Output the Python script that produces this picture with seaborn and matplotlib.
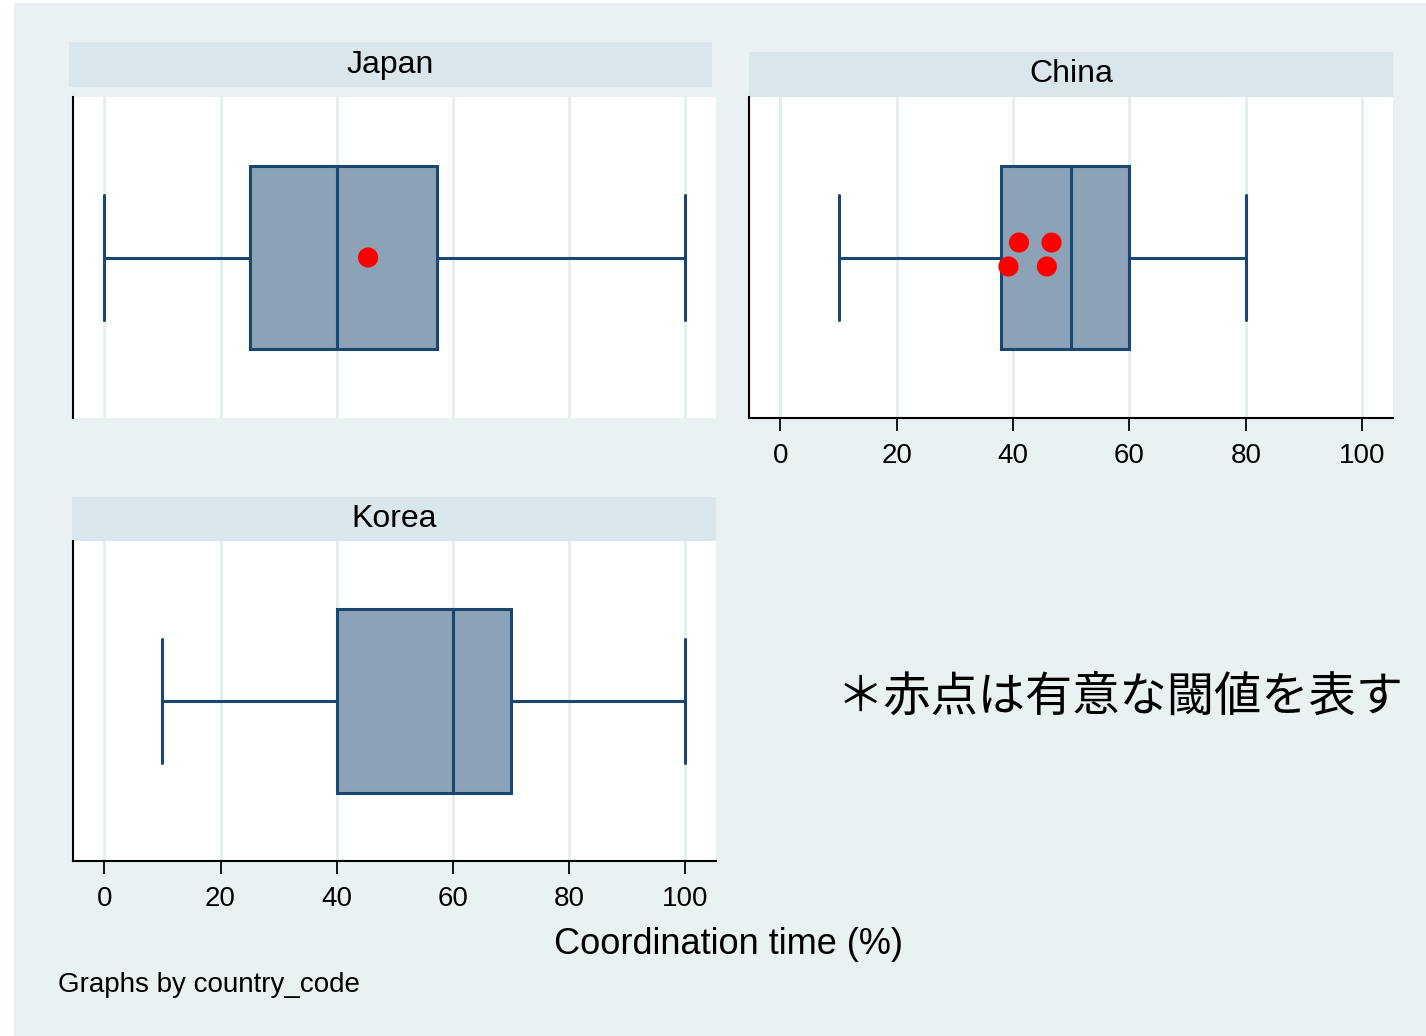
# Boxplots de tiempo de coordinación por país (estilo Stata)
import pandas as pd
import matplotlib.pyplot as plt
import seaborn as sns
from matplotlib.patches import Rectangle

# ==============================================================================
# Datos
# ==============================================================================
countries = ['Japan', 'China', 'Korea']

# min, Q1, mediana, Q3, max de cada país
japan_vals = [0, 25, 40, 57.3, 100]
china_vals = [10, 38, 50, 60, 80]
korea_vals = [10, 40, 60, 70, 100]

# Puntos rojos (umbrales significativos)
dot_country = ['Japan', 'China', 'China', 'China', 'China']
dot_x = [45.4, 41.0, 46.6, 39.2, 45.8]
dot_y = [0.0, -0.065, -0.065, 0.039, 0.039]

x_ticks = [0, 20, 40, 60, 80, 100]

df = pd.DataFrame({
    'country': ['Japan'] * 5 + ['China'] * 5 + ['Korea'] * 5,
    'value': japan_vals + china_vals + korea_vals,
})
df_dots = pd.DataFrame({'country': dot_country, 'x': dot_x, 'y': dot_y})

# Colores
bg = '#EAF1F3'
strip = '#D9E6EC'
grid_col = '#E6EEF0'
navy = '#1A476F'
box_fill = '#8CA3B7'

sns.set_style('white')
plt.rcParams['font.family'] = ['Liberation Sans', 'Noto Sans CJK JP', 'DejaVu Sans']
plt.rcParams['text.color'] = 'black'
plt.rcParams['xtick.color'] = 'black'
plt.rcParams['xtick.labelcolor'] = 'black'

W, H = 1426, 1036
fig = plt.figure(figsize=(W / 100, H / 100), dpi=100, facecolor='white')
fig.patches.append(Rectangle((14 / W, 0), 1 - 14 / W, 1 - 3 / H, transform=fig.transFigure,
                             facecolor=bg, edgecolor='none', zorder=-10))


def px_axes(x0, y0, x1, y1):
    return fig.add_axes([x0 / W, 1 - y1 / H, (x1 - x0) / W, (y1 - y0) / H])


def add_strip(x0, y0, x1, y1, label):
    fig.patches.append(Rectangle((x0 / W, 1 - y1 / H), (x1 - x0) / W, (y1 - y0) / H,
                                 transform=fig.transFigure, facecolor=strip,
                                 edgecolor='none', zorder=-5))
    fig.text((x0 + x1) / 2 / W, 1 - (y0 + y1) / 2 / H, label, ha='center', va='center',
             fontsize=23, color='black')


# Posición de paneles en píxeles
panels = {
    'Japan': dict(ax=(73, 97, 716, 418), strip=(69, 42, 712, 87), xlab=False),
    'China': dict(ax=(749, 97, 1393, 418), strip=(749, 52, 1393, 97), xlab=True),
    'Korea': dict(ax=(73, 541, 716, 861), strip=(72, 497, 716, 541), xlab=True),
}

for c in countries:
    p = panels[c]
    ax = px_axes(*p['ax'])
    ax.set_facecolor('white')
    sub = df[df['country'] == c]
    sns.boxplot(data=sub, x='value', orient='h', ax=ax, color=box_fill, saturation=1,
                linecolor=navy, linewidth=2.2, width=0.8, whis=(0, 100),
                capwidths=0.54)
    d = df_dots[df_dots['country'] == c]
    if len(d):
        sns.scatterplot(data=d, x='x', y='y', ax=ax, color='#FF0000', s=210,
                        edgecolor='none', zorder=5)

    ax.set_xlim(-5.4, 105.3)
    ax.set_ylim(0.698, -0.698)
    ax.set_xticks(x_ticks)
    ax.set_yticks([])
    ax.grid(axis='x', color=grid_col, linewidth=2.2)
    ax.grid(axis='y', visible=False)
    ax.set_axisbelow(True)
    ax.set_xlabel('')
    ax.set_ylabel('')

    for s in ['top', 'right']:
        ax.spines[s].set_visible(False)
    ax.spines['left'].set_color('black')
    ax.spines['left'].set_linewidth(1.5)
    if p['xlab']:
        ax.spines['bottom'].set_color('black')
        ax.spines['bottom'].set_linewidth(1.5)
        ax.tick_params(axis='x', length=9, width=1.3, color='black', labelsize=20, pad=9,
                       bottom=True, labelcolor='black')
    else:
        ax.spines['bottom'].set_visible(False)
        ax.tick_params(axis='x', bottom=False, labelbottom=False)

    add_strip(*p['strip'], c)

# Textos
fig.text(729 / W, 1 - 945 / H, 'Coordination time (%)', ha='center', va='center',
         fontsize=26, color='black')
fig.text(58 / W, 1 - 985 / H, 'Graphs by country_code', ha='left', va='center',
         fontsize=20, color='black')
fig.text(1120 / W, 1 - 697 / H, '＊赤点は有意な閾値を表す', ha='center', va='center',
         fontsize=34, color='black', family=['Noto Sans CJK JP', 'DejaVu Sans'])

plt.savefig('out.png', dpi=100, facecolor=fig.get_facecolor())
